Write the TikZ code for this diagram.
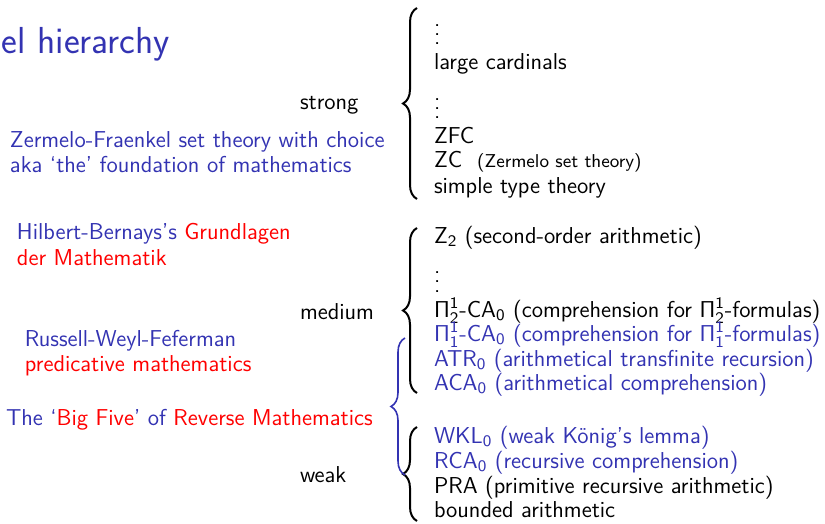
\documentclass[tikz,border=0pt]{standalone}
\usepackage{amsmath}
\usetikzlibrary{decorations.pathreplacing}

\definecolor{structblue}{rgb}{0.2,0.2,0.7}
\definecolor{alertred}{rgb}{1,0,0}

% small helpers for the theory names
\newcommand{\sub}[1]{$_{\textsf{#1}}$}
\newcommand{\PiSub}[2]{Π\smash{$^{\textsf{#1}}_{\textsf{#2}}$}}
\newcommand{\dotcol}{\vbox{\baselineskip4.7pt\lineskiplimit0pt\hbox{.}\hbox{.}\hbox{.}}}

\begin{document}
\begin{tikzpicture}[
    x=0.5pt, y=-0.5pt, % one unit is one pixel of the slide
    % Style definitions
    every node/.style={inner sep=0pt, outer sep=0pt},
    slide text/.style={font=\sffamily\fontsize{11.5}{14}\selectfont, anchor=base west},
    title text/.style={font=\sffamily\fontsize{18.8}{22}\selectfont, text=structblue, anchor=base east},
    note text/.style={slide text, text=structblue},
    alert text/.style={slide text, text=alertred},
    level text/.style={slide text},
    item text/.style={slide text},
    blue item/.style={item text, text=structblue},
    % Braces
    black brace/.style={decorate, decoration={brace, amplitude=7pt}, line width=1pt},
    blue brace/.style={decorate, decoration={brace, amplitude=7pt}, line width=0.8pt, draw=structblue}
]
\useasboundingbox (0,0) rectangle (825,524);

% ==========================================
% 1. TITLE AND LEFT COLUMN
% ==========================================

\node[title text] (title) at (170,54) {el hierarchy};

\node[note text] (zf a) at (10,148) {Zermelo-Fraenkel set theory with choice};
\node[note text] (zf b) at (10,172) {aka ‘the’ foundation of mathematics};

\node[note text] (hb a) at (17,240) {Hilbert-Bernays’s \textcolor{alertred}{Grundlagen}};
\node[alert text] (hb b) at (17,265) {der Mathematik};

\node[note text] (rwf a) at (25,346) {Russell-Weyl-Feferman};
\node[alert text] (rwf b) at (25,371) {predicative mathematics};

\node[note text] (big five) at (6,425) {The ‘\textcolor{alertred}{Big Five}’ of \textcolor{alertred}{Reverse Mathematics}};

% Levels
\node[level text] (strong) at (300,110) {strong};
\node[level text] (medium) at (300,319) {medium};
\node[level text] (weak) at (300,482) {weak};

% ==========================================
% 2. RIGHT COLUMN (theories)
% ==========================================

% strong
\node[item text] (dots a) at (434,45) {\dotcol};
\node[item text] (lc) at (434,70) {large cardinals};
\node[item text] (dots b) at (434,119) {\dotcol};
\node[item text] (zfc) at (434,144) {ZFC};
\node[item text] (zc) at (434,168) {ZC\ \ {\fontsize{9.3}{11}\selectfont (Zermelo set theory)}};
\node[item text] (stt) at (434,193) {simple type theory};

% medium
\node[item text] (z2) at (434,243) {Z\sub{2} (second-order arithmetic)};
\node[item text] (dots c) at (434,292) {\dotcol};
\node[item text] (pi2) at (434,317) {\PiSub{1}{2}-CA\sub{0} (comprehension for \PiSub{1}{2}-formulas)};
\node[blue item] (pi1) at (434,341) {\PiSub{1}{1}-CA\sub{0} (comprehension for \PiSub{1}{1}-formulas)};
\node[blue item] (atr) at (434,366) {ATR\sub{0} (arithmetical transfinite recursion)};
\node[blue item] (aca) at (434,390) {ACA\sub{0} (arithmetical comprehension)};

% weak
\node[blue item] (wkl) at (434,443) {WKL\sub{0} (weak König’s lemma)};
\node[blue item] (rca) at (434,468) {RCA\sub{0} (recursive comprehension)};
\node[item text] (pra) at (434,493) {PRA (primitive recursive arithmetic)};
\node[item text] (ba) at (434,517) {bounded arithmetic};

% ==========================================
% 3. BRACES
% ==========================================

\coordinate (strong top) at (417,8);
\coordinate (strong bot) at (417,199);
\coordinate (medium top) at (417,228);
\coordinate (medium bot) at (417,393);
\coordinate (weak top) at (417,427);
\coordinate (weak bot) at (417,521);
\coordinate (five top) at (405,338);
\coordinate (five bot) at (405,475);

\draw[black brace] (strong bot) -- (strong top);
\draw[black brace] (medium bot) -- (medium top);
\draw[black brace] (weak bot) -- (weak top);
\draw[blue brace] (five bot) -- (five top);

\end{tikzpicture}
\end{document}
